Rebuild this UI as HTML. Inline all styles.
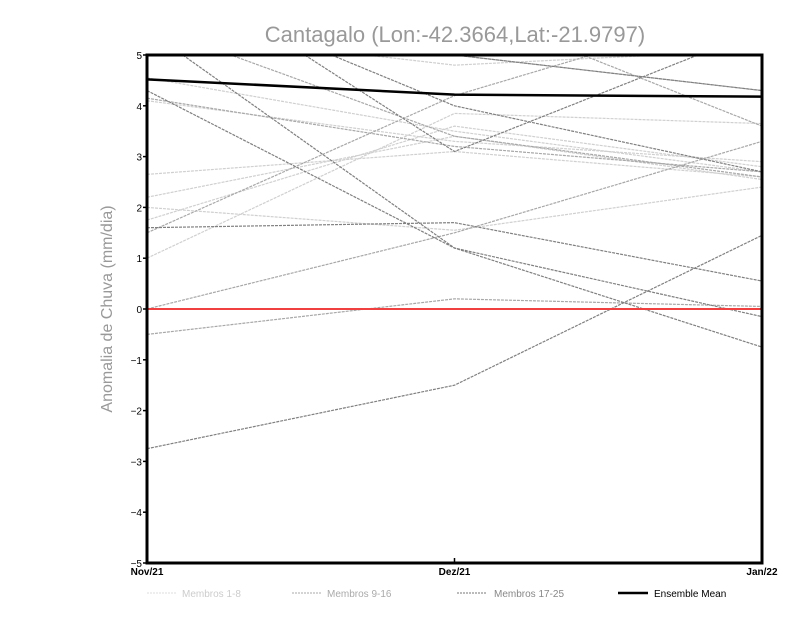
<!DOCTYPE html>
<html><head><meta charset="utf-8"><style>
body{margin:0;background:#fff;}
svg text{font-family:"Liberation Sans",sans-serif;}
</style></head><body>
<svg id="chart" width="800" height="618" xmlns="http://www.w3.org/2000/svg">
<defs><clipPath id="clip"><rect x="147" y="55" width="615" height="508"/></clipPath></defs>
<text x="455" y="42" text-anchor="middle" font-size="22" fill="#999">Cantagalo (Lon:-42.3664,Lat:-21.9797)</text>
<text transform="translate(112,309) rotate(-90)" text-anchor="middle" font-size="16" fill="#999">Anomalia de Chuva (mm/dia)</text>
<g id="series" clip-path="url(#clip)"></g>
<g id="axes"></g>
<g id="legend">
<line x1="147" y1="593" x2="177" y2="593" stroke="#ddd" stroke-dasharray="2,1"/>
<text x="182" y="597" font-size="10" fill="#ccc">Membros 1-8</text>
<line x1="292" y1="593" x2="322" y2="593" stroke="#aaa" stroke-dasharray="2,1"/>
<text x="327" y="597" font-size="10" fill="#aaa">Membros 9-16</text>
<line x1="457" y1="593" x2="487" y2="593" stroke="#777" stroke-dasharray="2,1"/>
<text x="494" y="597" font-size="10" fill="#888">Membros 17-25</text>
<line x1="618" y1="593" x2="648" y2="593" stroke="#000" stroke-width="2.5"/>
<text x="654" y="597" font-size="10" fill="#000">Ensemble Mean</text>
</g>
</svg>
<script>
const categories = ["Nov/21","Dez/21","Jan/22"];
const yTicks = [-5,-4,-3,-2,-1,0,1,2,3,4,5];
const members1to8 = [[4.55,3.5,2.7],[2.65,3.1,2.6],[2.2,3.4,2.55],[1.75,3.6,2.8],[1.0,3.85,3.65],[2.0,1.55,2.4],[5.5,4.8,5.1],[4.1,3.3,2.9]];
const members9to16 = [[0,1.5,3.3],[-0.5,0.2,0.05],[5.6,3.4,2.6],[4.15,3.2,2.7],[1.5,4.2,6.0],[6.0,5.0,4.3],[7.0,6.0,3.6]];
const members17to25 = [[4.3,1.2,-0.15],[5.5,1.2,-0.75],[1.6,1.7,0.55],[-2.75,-1.5,1.45],[7.0,3.1,5.5],[5.8,5.0,4.3],[6.5,4.0,2.7]];
const ensembleMean = [4.52,4.22,4.18];
const X0=147,X1=762,Y0=563,Y1=55;
const xS=i=>X0+(X1-X0)*i/(categories.length-1);
const yS=v=>Y0-(v+5)/10*(Y0-Y1);
const NS="http://www.w3.org/2000/svg";
const sg=document.getElementById('series'), ag=document.getElementById('axes');
function mk(tag,attrs,parent){const e=document.createElementNS(NS,tag);for(const k in attrs)e.setAttribute(k,attrs[k]);parent.appendChild(e);return e;}
function pl(vals,stroke,w,dash,name){
 const p=mk('polyline',{points:vals.map((v,i)=>xS(i)+','+yS(v)).join(' '),fill:'none',stroke:stroke,'stroke-width':w},sg);
 if(dash)p.setAttribute('stroke-dasharray',dash);
 
 
}
members1to8.forEach((m,i)=>pl(m,'#d0d0d0',1.2,'3,1','member-line-'+(i+1)));
members9to16.forEach((m,i)=>pl(m,'#a8a8a8',1.2,'3,1','member-line-'+(i+9)));
members17to25.forEach((m,i)=>pl(m,'#808080',1.2,'3,1','member-line-'+(i+17)));
const z=mk('line',{x1:X0,x2:X1,y1:yS(0),y2:yS(0),stroke:'#f04040','stroke-width':2},sg);


pl(ensembleMean,'#000',2.5,null,'ensemble-mean-line');
const fr=mk('rect',{x:X0,y:Y1,width:X1-X0,height:Y0-Y1,fill:'none',stroke:'#000','stroke-width':3},ag);


yTicks.forEach(t=>{
 mk('line',{x1:X0-4,x2:X0,y1:yS(t),y2:yS(t),stroke:'#000','stroke-width':1.5},ag);
 const tx=mk('text',{x:X0-5,y:yS(t)+4,'text-anchor':'end','font-size':10,fill:'#000'},ag);
 tx.textContent=t<0?'\u2212'+(-t):t;
 
 
});
categories.forEach((c,i)=>{
 mk('line',{x1:xS(i),x2:xS(i),y1:Y0,y2:Y0-5,stroke:'#000','stroke-width':1.5},ag);
 const tx=mk('text',{x:xS(i),y:Y0+12,'text-anchor':'middle','font-size':10,'font-weight':'bold',fill:'#000'},ag);
 tx.textContent=c;
 
 
});
</script>
</body></html>
